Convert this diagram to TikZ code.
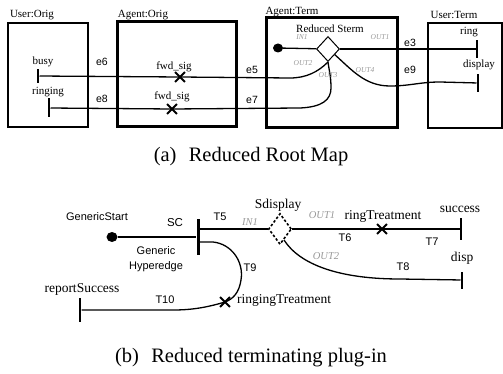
\documentclass[tikz,border=0pt]{standalone}
\usepackage{fontspec}
\setmainfont{Liberation Serif}
\setsansfont{Liberation Sans}
\usetikzlibrary{shapes.geometric,shapes.misc}

\begin{document}
\begin{tikzpicture}[x=1pt, y=-1pt,
	tag/.style={font=\fontsize{11}{12}\selectfont, inner sep=0},
	bigtag/.style={font=\fontsize{13.5}{15}\selectfont, inner sep=0},
	sftag/.style={font=\sffamily\fontsize{11}{15}\selectfont, inner sep=0},
	porttag/.style={font=\itshape\fontsize{7.5}{8}\selectfont, text=black!40, inner sep=0},
	bigport/.style={font=\itshape\fontsize{10.5}{12}\selectfont, text=black!40, inner sep=0},
	captiontag/.style={font=\fontsize{20.5}{24}\selectfont, inner sep=0},
	compbox/.style={draw, line width=1.1pt, inner sep=0},
	agentbox/.style={draw, line width=3pt, inner sep=0},
	endbar/.style={fill, draw=none, inner sep=0, minimum width=2.6},
	startdot/.style={fill, ellipse, inner sep=0, minimum width=10, minimum height=9},
	stub/.style={draw, diamond, fill=white, inner sep=0, line width=1pt, minimum width=23, minimum height=25},
	respt/.style={draw, cross out, line width=1.8pt, inner sep=0, minimum size=8},
	ucmpath/.style={line width=1.3pt}]
	\useasboundingbox (0,0) rectangle (503,374);

	\node (uorig) [compbox, minimum width=80, minimum height=104] at (48,75) {};
	\node (aorig) [agentbox, minimum width=119, minimum height=105] at (176.5,74.5) {};
	\node (aterm) [agentbox, minimum width=131, minimum height=110] at (331.5,73) {};
	\node (uterm) [compbox, minimum width=74, minimum height=105] at (465,75.5) {};
	\node (uorigname) [tag] at (32,15) {User:Orig};
	\node (aorigname) [tag] at (143,15) {Agent:Orig};
	\node (atermname) [tag] at (292,12) {Agent:Term};
	\node (utermname) [tag] at (454,15) {User:Term};

	\node (busy) [endbar, minimum height=14] at (38,76) {};
	\node (ringing) [endbar, minimum height=19] at (49,108) {};
	\node (ring) [endbar, minimum height=18] at (477,49) {};
	\node (display) [endbar, minimum height=18] at (478,83) {};
	\node (dot1) [startdot] at (278,48) {};
	\node (rsterm) [stub] at (328,49) {};
	\node (fwd1) [respt] at (180,77) {};
	\node (fwd2) [respt] at (172,109) {};

	\draw[ucmpath] (busy) -- (fwd1.center) -- (290,78) .. controls (306,78) and (318,72) .. (rsterm.south);
	\draw[ucmpath] (ringing) -- (fwd2.center) -- (300,108) .. controls (322,107) and (331,100) .. (331,88) .. controls (331,76) and (329,70) .. (rsterm.south);
	\draw[ucmpath] (dot1) -- (rsterm);
	\draw[ucmpath] (rsterm) -- (ring);
	\draw[ucmpath] (rsterm.-40) .. controls (352,70) and (365,86) .. (390,86) .. controls (410,86) and (420,82) .. (440,82) -- (display);

	\node (busyname) [tag] at (43,62) {busy};
	\node (ringingname) [tag] at (48,92) {ringing};
	\node (e6) [sftag, font=\sffamily\fontsize{10.5}{12}\selectfont] at (102,62) {e6};
	\node (e8) [sftag, font=\sffamily\fontsize{10.5}{12}\selectfont] at (102,99) {e8};
	\node (fwd1name) [tag] at (174,67) {fwd\_sig};
	\node (fwd2name) [tag] at (172,97) {fwd\_sig};
	\node (e5) [sftag, font=\sffamily\fontsize{10.5}{12}\selectfont] at (252,70) {e5};
	\node (e7) [sftag, font=\sffamily\fontsize{10.5}{12}\selectfont] at (252,100) {e7};
	\node (rstermname) [tag] at (330,29) {Reduced Sterm};
	\node (in1) [porttag] at (302,37) {IN1};
	\node (out1) [porttag] at (380,37) {OUT1};
	\node (out2) [porttag] at (303,63) {OUT2};
	\node (out3) [porttag] at (328,75) {OUT3};
	\node (out4) [porttag] at (365,70) {OUT4};
	\node (e3) [sftag, font=\sffamily\fontsize{10.5}{12}\selectfont] at (410,43) {e3};
	\node (e9) [sftag, font=\sffamily\fontsize{10.5}{12}\selectfont] at (410,70) {e9};
	\node (ringname) [tag] at (469,32) {ring};
	\node (displayname) [tag] at (479,65) {display};
	\node (capa) [captiontag] at (251,157) {(a)\hspace{.6em}Reduced Root Map};

	\node (gstart) [startdot, minimum width=11, minimum height=10] at (112,237) {};
	\node (sc) [endbar, minimum width=3, minimum height=36] at (198,237) {};
	\node (sdisplay) [stub, dash pattern=on 2.5pt off 2pt, line width=1.6pt, minimum height=31] at (280,229) {};
	\node (ringtr) [respt] at (382,229) {};
	\node (success) [endbar, minimum height=22] at (461,229) {};
	\node (disp) [endbar, minimum height=17] at (462,280) {};
	\node (ringingtr) [respt] at (225,302) {};
	\node (repsucc) [endbar, minimum height=24] at (80,310) {};

	\draw[ucmpath] (gstart) -- (sc);
	\draw[ucmpath] ([yshift=8]sc.east) -- (sdisplay.west);
	\draw[ucmpath] (sdisplay) -- (ringtr.center) -- (success);
	\draw[ucmpath] (sdisplay.-70) .. controls (300,265) and (340,279) .. (400,279) -- (disp);
	\draw[ucmpath] ([yshift=-5]sc.east) -- (213,242) .. controls (232,244) and (244,262) .. (241,280) .. controls (239,293) and (233,299) .. (ringingtr.center) .. controls (205,308) and (190,310) .. (173,310) -- (repsucc);

	\node (gstartname) [sftag] at (97,217) {GenericStart};
	\node (scname) [sftag, font=\sffamily\fontsize{11.5}{13}\selectfont] at (175,223) {SC};
	\node (hypername) [sftag, align=center] at (156,259.5) {Generic\\Hyperedge};
	\node (t5) [sftag] at (220,217) {T5};
	\node (t6) [sftag] at (345,238) {T6};
	\node (t7) [sftag] at (432,242) {T7};
	\node (t8) [sftag] at (403,267) {T8};
	\node (t9) [sftag] at (250,268) {T9};
	\node (t10) [sftag] at (165,300) {T10};
	\node (sdisplayname) [bigtag] at (278,205) {Sdisplay};
	\node (in1b) [bigport] at (250,222) {IN1};
	\node (out1b) [bigport] at (322,215) {OUT1};
	\node (out2b) [bigport] at (326,256) {OUT2};
	\node (ringtrname) [bigtag] at (383,216) {ringTreatment};
	\node (successname) [bigtag] at (460,209) {success};
	\node (dispname) [bigtag] at (462,258) {disp};
	\node (repsuccname) [bigtag] at (82,289) {reportSuccess};
	\node (ringingtrname) [bigtag, anchor=west] at (237,300) {ringingTreatment};
	\node (capb) [captiontag] at (251,358) {(b)\hspace{.6em}Reduced terminating plug-in};
\end{tikzpicture}
\end{document}
